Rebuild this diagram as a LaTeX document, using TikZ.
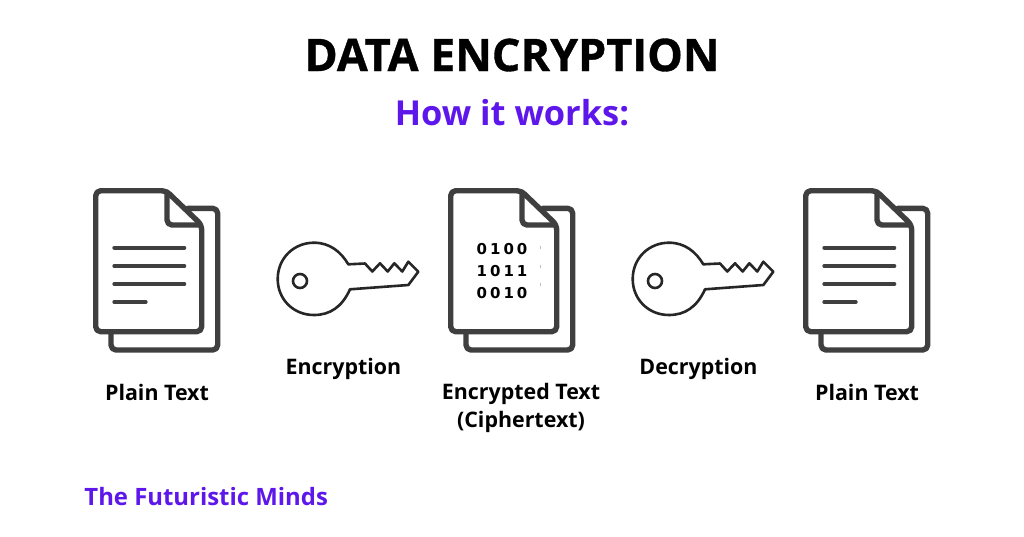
\documentclass[tikz,border=0pt]{standalone}
\usepackage{fontspec}
\setmainfont{Open Sans}[BoldFont={Open Sans Bold}]
\newfontfamily\heavyfont{Open Sans}[BoldFont={Open Sans Bold},BoldFeatures={FakeBold=0.8}]
\newfontfamily\digitfont{DejaVu Sans}
\definecolor{ink}{HTML}{3F3F3F}
\definecolor{accent}{HTML}{5E17EB}
\tikzset{
  px/.style={x=1pt,y=-1pt},
  docline/.style={draw=ink,line width=5.4pt,line join=round,line cap=round,rounded corners=5pt},
  textline/.style={draw=ink,line width=4pt,line cap=round},
  keyline/.style={draw=black!85,line width=2.6pt,line join=round},
  tick/.style={draw=black!25,line width=0.8pt},
  label/.style={font=\bfseries\fontsize{21.4}{28}\selectfont,text=black,align=center,inner sep=0pt},
  digits/.style={font=\digitfont\bfseries\fontsize{15}{18}\selectfont,text=black,inner sep=0pt},
}
\newcommand{\docicon}[1]{%
  \begin{scope}[shift={(#1,0)}]
    \draw[docline] (188,208.3) -- (217.7,208.3) -- (217.7,350) -- (111,350) -- (111,333);
    \draw[docline] (166,190.7) -- (95.7,190.7) -- (95.7,331.7) -- (201.7,331.7) -- (201.7,225) -- cycle;
    \draw[docline] (167,192) -- (167,225) -- (200,225);
  \end{scope}}
\newcommand{\keyicon}[1]{%
  \begin{scope}[shift={(#1,0)}]
    \draw[keyline] (348.3,264.3) -- (365,263.5) -- (372.3,271.5) -- (380,263.3) -- (387.7,271.5) -- (394.3,263.3) -- (402.3,271.5) -- (408.3,261.7) -- (418.3,271.7) -- (408.3,285) -- (350,289.3)
      .. controls (342,307) and (330,315) .. (314,315) .. controls (293,315) and (277.7,299) .. (277.7,279)
      .. controls (277.7,258) and (294,242.7) .. (314,242.7) .. controls (330,242.7) and (341,252) .. (348.3,264.3) -- cycle;
    \draw[keyline] (300,281) circle (7);
  \end{scope}}
\begin{document}
\begin{tikzpicture}[px]
\useasboundingbox (0,0) rectangle (1024,536);
\fill[white] (0,0) rectangle (1024,536);
\node[font=\heavyfont\bfseries\fontsize{44.9}{48}\selectfont,inner sep=0pt] (title) at (512,55) {DATA ENCRYPTION};
\node[font=\bfseries\fontsize{34.4}{38}\selectfont,text=accent,inner sep=0pt] (sub) at (512,113) {How it works:};
\docicon{0}\docicon{355}\docicon{710}
\keyicon{0}\keyicon{355}
\draw[textline] (114.3,247.7) -- (184.3,247.7);
\draw[textline] (114.3,266) -- (184.3,266);
\draw[textline] (114.3,284) -- (184.3,284);
\draw[textline] (114.3,302) -- (145.7,302);
\draw[textline] (824.3,247.7) -- (894.3,247.7);
\draw[textline] (824.3,266) -- (894.3,266);
\draw[textline] (824.3,284) -- (894.3,284);
\draw[textline] (824.3,302) -- (855.7,302);
\node[digits] (d1) at (502,249) {0\kern3pt 1\kern3pt 0\kern3pt 0};
\node[digits] (d2) at (502,271) {1\kern3pt 0\kern3pt 1\kern3pt 1};
\node[digits] (d3) at (502,293) {0\kern3pt 0\kern3pt 1\kern3pt 0};
\draw[tick] (540.5,246) -- (540.5,249);
\draw[tick] (540.5,264.5) -- (540.5,267.5);
\draw[tick] (540.5,282.5) -- (540.5,285.5);
\node[label] (p1) at (157,392) {Plain Text};
\node[label] (e1) at (343.5,369) {Encryption};
\node[label] (c1) at (521,408) {Encrypted Text\\(Ciphertext)};
\node[label] (e2) at (698.5,369) {Decryption};
\node[label] (p2) at (867,392) {Plain Text};
\node[font=\bfseries\fontsize{23.9}{26}\selectfont,text=accent,inner sep=0pt] (brand) at (206.2,497) {The Futuristic Minds};
\end{tikzpicture}
\end{document}
